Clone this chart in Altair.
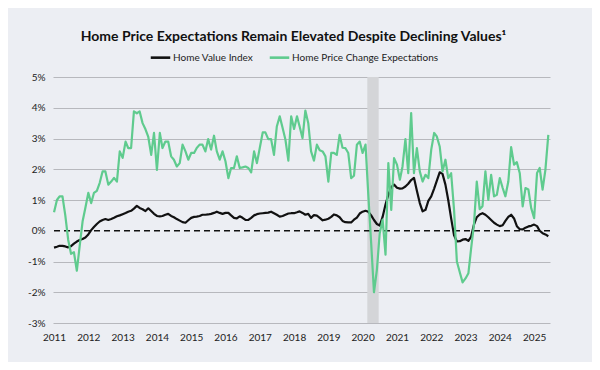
import altair as alt
import pandas as pd

# ---------------- data (monthly, Jan 2011 .. Jun 2025) ----------------
first_month = "2011-01-01"

home_value_index = [
    -0.55, -0.52, -0.49, -0.49, -0.51, -0.54, -0.50, -0.42, -0.35, -0.30, -0.27, -0.22,   # 2011
    -0.12, 0.02, 0.12, 0.22, 0.30, 0.35, 0.38, 0.35, 0.38, 0.42, 0.47, 0.50,              # 2012
    0.54, 0.58, 0.62, 0.65, 0.72, 0.81, 0.74, 0.70, 0.64, 0.73, 0.64, 0.55,               # 2013
    0.48, 0.47, 0.48, 0.52, 0.55, 0.48, 0.44, 0.38, 0.33, 0.28, 0.26, 0.34,               # 2014
    0.42, 0.45, 0.46, 0.48, 0.52, 0.52, 0.53, 0.55, 0.58, 0.62, 0.58, 0.55,               # 2015
    0.58, 0.58, 0.50, 0.42, 0.40, 0.47, 0.42, 0.35, 0.35, 0.42, 0.50, 0.54,               # 2016
    0.56, 0.57, 0.58, 0.59, 0.62, 0.57, 0.52, 0.46, 0.48, 0.52, 0.56, 0.57,               # 2017
    0.57, 0.60, 0.63, 0.58, 0.52, 0.55, 0.42, 0.51, 0.49, 0.42, 0.34, 0.36,               # 2018
    0.39, 0.45, 0.53, 0.50, 0.44, 0.32, 0.28, 0.27, 0.27, 0.36, 0.43, 0.56,               # 2019
    0.62, 0.65, 0.62, 0.50, 0.35, 0.22, 0.17, 0.45, 0.85, 1.17, 1.42, 1.50,               # 2020
    1.40, 1.37, 1.38, 1.44, 1.53, 1.65, 1.72, 1.30, 0.90, 0.63, 0.68, 0.97,               # 2021
    1.12, 1.37, 1.62, 1.90, 1.85, 1.50, 1.00, 0.40, -0.15, -0.35, -0.34, -0.29,           # 2022
    -0.27, -0.33, -0.20, 0.20, 0.44, 0.53, 0.57, 0.52, 0.44, 0.35, 0.26, 0.20,            # 2023
    0.15, 0.18, 0.32, 0.45, 0.52, 0.40, 0.15, 0.05, 0.04, 0.10, 0.14, 0.16,               # 2024
    0.20, 0.15, 0.00, -0.08, -0.12, -0.18,                                                # 2025
]

price_expectations = [
    0.60, 1.00, 1.12, 1.12, 0.50, -0.30, -0.75, -0.70, -1.30, -0.50, 0.30, 0.75,          # 2011
    1.23, 0.90, 1.23, 1.30, 1.55, 1.93, 1.93, 1.50, 1.60, 1.72, 1.60, 2.58,               # 2012
    2.37, 2.90, 2.69, 2.69, 3.88, 3.82, 3.88, 3.50, 3.30, 3.05, 2.47, 3.18,               # 2013
    1.98, 3.18, 2.69, 2.90, 2.90, 2.42, 2.31, 2.09, 2.20, 2.80, 2.58, 2.31,               # 2014
    2.53, 2.53, 2.69, 2.80, 2.80, 2.58, 2.98, 2.64, 3.09, 2.58, 2.31, 2.58,               # 2015
    2.26, 1.71, 2.04, 2.04, 2.42, 2.04, 2.06, 2.09, 2.04, 1.90, 2.58, 2.20,               # 2016
    2.70, 3.20, 3.20, 2.98, 2.98, 2.47, 3.39, 3.72, 3.34, 2.96, 2.28, 3.72,               # 2017
    3.31, 3.72, 3.39, 3.01, 3.91, 3.50, 2.58, 2.28, 2.80, 2.62, 2.58, 2.42,               # 2018
    1.60, 2.53, 2.53, 2.47, 3.12, 2.70, 2.69, 2.53, 1.71, 1.79, 2.80, 2.90,               # 2019
    2.53, 2.80, 1.20, -0.40, -2.00, -1.27, -0.08, 0.36, -0.78, 2.20, 0.68, 2.36,          # 2020
    2.15, 1.66, 2.09, 2.98, 1.87, 3.83, 1.87, 2.69, 1.93, 1.60, 1.82, 1.71,               # 2021
    2.64, 3.18, 3.07, 2.74, 1.93, 2.31, 1.71, 1.87, 0.68, -1.00, -1.35, -1.68,            # 2022
    -1.55, -1.38, -0.60, 0.20, 1.60, 0.70, 0.80, 1.93, 1.00, 1.82, 1.12, 1.17,            # 2023
    1.71, 1.39, 1.12, 1.60, 2.72, 2.15, 2.23, 1.87, 0.79, 1.39, 1.34, 0.73,               # 2024
    0.41, 1.88, 2.04, 1.34, 1.98, 3.12,                                                   # 2025
]

series_names = ["Home Value Index", "Home Price Change Expectations"]
series_colors = ["#111111", "#5fcb8e"]

recession_start = ["2020-02-20"]
recession_end = ["2020-06-20"]

y_ticks = [-3, -2, -1, 0, 1, 2, 3, 4, 5]
year_ticks = list(range(2011, 2026))
zero_line = [0]

title_text = "Home Price Expectations Remain Elevated Despite Declining Values\u00b9"

# ---------------- tables ----------------
n = len(home_value_index)
dates = pd.date_range(first_month, periods=n, freq="MS").strftime("%Y-%m-%d").tolist()
df = pd.DataFrame({
    "date": dates + dates,
    "value": home_value_index + price_expectations,
    "series": [series_names[0]] * n + [series_names[1]] * n,
})
band_df = pd.DataFrame({"start": recession_start, "end": recession_end})
zero_df = pd.DataFrame({"y": zero_line})

FONT = "Lato"
W, H = 497, 246

x_scale = alt.Scale(domain=[alt.DateTime(year=2010, month=12, date=21),
                            alt.DateTime(year=2025, month=6, date=19)])
y_scale = alt.Scale(domain=[-3, 5], nice=False, zero=False)

x_axis = alt.Axis(values=[alt.DateTime(year=y, month=1, date=1) for y in year_ticks],
                  format="%Y", grid=False, domain=False, ticks=False,
                  labelPadding=9, labelFont=FONT, labelFontSize=10,
                  labelColor="#222222", labelOverlap=False)
y_axis = alt.Axis(values=y_ticks, labelExpr="datum.value + '%'", grid=True,
                  gridColor={"condition": {"test": "datum.value === 0", "value": "transparent"},
                             "value": "#b7b8bd"},
                  gridWidth=1, domain=False, ticks=False, labelPadding=8,
                  labelFont=FONT, labelFontSize=10, labelColor="#222222",
                  labelOverlap=False)

band = alt.Chart(band_df).mark_rect(color="#d4d5d8").encode(
    x=alt.X("start:T", scale=x_scale, axis=x_axis, title=None),
    x2="end:T",
    y=alt.datum(5, scale=y_scale, axis=y_axis, title=None),
    y2=alt.datum(-3),
)

zero = alt.Chart(zero_df).mark_rule(color="#111111", strokeDash=[6, 4], strokeWidth=1.6).encode(
    y=alt.Y("y:Q", scale=y_scale, axis=y_axis, title=None)
)

lines = alt.Chart(df).mark_line(strokeWidth=2.2, strokeJoin="round").encode(
    x=alt.X("date:T", scale=x_scale, axis=x_axis, title=None),
    y=alt.Y("value:Q", scale=y_scale, axis=y_axis, title=None),
    color=alt.Color(
        "series:N",
        scale=alt.Scale(domain=series_names, range=series_colors),
        sort=series_names,
        legend=alt.Legend(
            orient="none", legendX=96, legendY=-31, direction="horizontal",
            title=None, symbolType="stroke", symbolSize=380, symbolStrokeWidth=2.6,
            labelFont=FONT, labelFontSize=10, labelColor="#222222",
            labelOffset=1, columnPadding=10,
        ),
    ),
    order=alt.Order("date:T"),
)

chart = alt.layer(band, zero, lines).properties(
    width=W,
    height=H,
    title=alt.TitleParams(text=title_text, font=FONT, fontSize=14, fontWeight="bold",
                          color="#111111", anchor="middle", offset=2, dx=-8),
    autosize=alt.AutoSizeParams(type="none"),
    padding={"left": 45, "top": 69, "right": 42, "bottom": 39},
    background="#eceef3",
).configure_view(stroke=None)

chart.save("out.html", embed_options={"renderer": "svg", "actions": False})
